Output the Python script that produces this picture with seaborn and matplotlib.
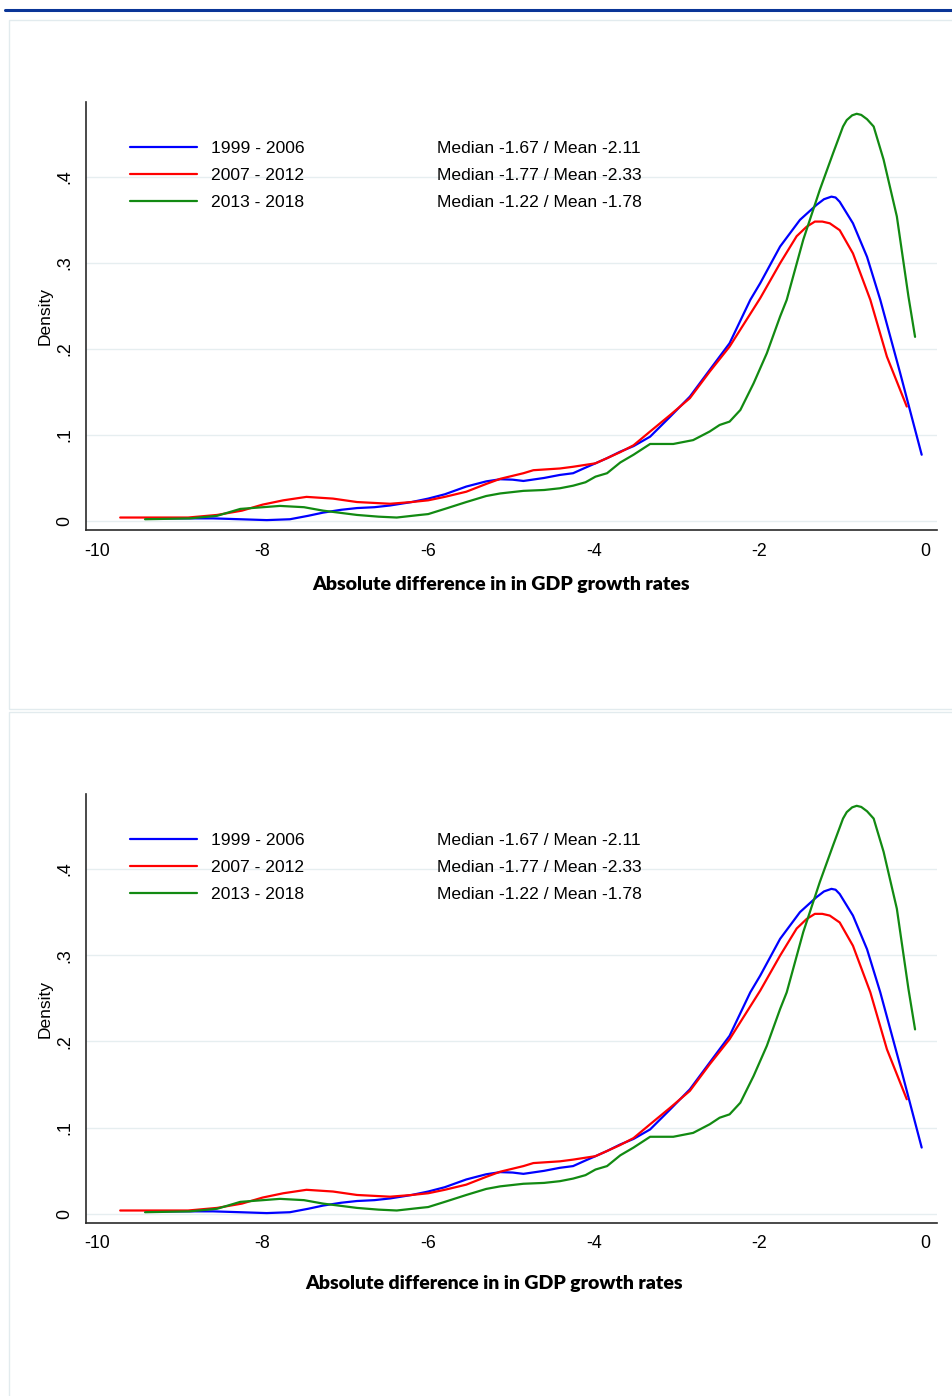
import numpy as np
import pandas as pd
import matplotlib
matplotlib.use("Agg")
import matplotlib.pyplot as plt
from matplotlib.lines import Line2D
from matplotlib.patches import Rectangle
import seaborn as sns

# kernel density curves (x = difference, y = density)
x_9906 = [-9.40, -9.00, -8.60, -8.27, -7.95, -7.67, -7.45, -7.27, -7.05, -6.86, -6.65, -6.46,
          -6.20, -6.00, -5.80, -5.54, -5.30, -5.13, -4.98, -4.85, -4.60, -4.41, -4.25, -4.10,
          -3.98, -3.84, -3.68, -3.52, -3.32, -3.08, -2.84, -2.60, -2.36, -2.11, -1.99, -1.75,
          -1.51, -1.31, -1.22, -1.13, -1.08, -1.03, -0.87, -0.70, -0.54, -0.30, -0.14, -0.04]
y_9906 = [0.003, 0.003, 0.003, 0.002, 0.001, 0.002, 0.006, 0.0097, 0.013, 0.015, 0.016, 0.018,
          0.022, 0.026, 0.031, 0.040, 0.046, 0.0485, 0.048, 0.0465, 0.050, 0.0535, 0.0555, 0.062,
          0.067, 0.073, 0.0806, 0.087, 0.098, 0.121, 0.1445, 0.1756, 0.2066, 0.257, 0.2764, 0.319,
          0.350, 0.3674, 0.374, 0.377, 0.376, 0.371, 0.346, 0.307, 0.257, 0.172, 0.1135, 0.077]

x_0712 = [-9.72, -9.30, -8.90, -8.55, -8.25, -8.00, -7.75, -7.47, -7.15, -6.86, -6.46, -6.20,
          -6.00, -5.80, -5.54, -5.30, -5.13, -4.85, -4.73, -4.41, -4.25, -3.98, -3.84, -3.68,
          -3.52, -3.32, -3.08, -2.84, -2.60, -2.36, -1.99, -1.75, -1.55, -1.43, -1.33, -1.24,
          -1.15, -1.03, -0.87, -0.66, -0.46, -0.22]
y_0712 = [0.004, 0.004, 0.004, 0.007, 0.012, 0.019, 0.024, 0.028, 0.026, 0.022, 0.020, 0.022,
          0.024, 0.028, 0.034, 0.043, 0.049, 0.0555, 0.059, 0.061, 0.063, 0.067, 0.073, 0.080,
          0.088, 0.104, 0.123, 0.1427, 0.1736, 0.2027, 0.259, 0.2996, 0.331, 0.342, 0.348, 0.348,
          0.346, 0.338, 0.311, 0.257, 0.191, 0.133]

x_1318 = [-9.42, -8.88, -8.55, -8.27, -7.79, -7.50, -7.27, -6.86, -6.60, -6.38, -6.10, -6.00,
          -5.80, -5.54, -5.30, -5.13, -4.85, -4.60, -4.41, -4.25, -4.10, -3.98, -3.84, -3.68,
          -3.52, -3.32, -3.04, -2.80, -2.60, -2.48, -2.36, -2.23, -2.07, -1.91, -1.75, -1.67,
          -1.47, -1.27, -1.11, -0.99, -0.945, -0.88, -0.825, -0.77, -0.70, -0.62, -0.50, -0.34,
          -0.20, -0.12]
y_1318 = [0.002, 0.003, 0.006, 0.014, 0.0175, 0.016, 0.012, 0.007, 0.005, 0.004, 0.007, 0.008,
          0.014, 0.022, 0.029, 0.032, 0.035, 0.036, 0.038, 0.041, 0.045, 0.0515, 0.0555, 0.068,
          0.077, 0.0895, 0.0895, 0.094, 0.104, 0.1116, 0.1155, 0.129, 0.160, 0.195, 0.2376, 0.257,
          0.327, 0.385, 0.4275, 0.4585, 0.466, 0.4715, 0.4733, 0.472, 0.467, 0.4585, 0.420, 0.354,
          0.261, 0.214]

periods = ["1999 - 2006", "2007 - 2012", "2013 - 2018"]
stats = ["Median -1.67 / Mean -2.11", "Median -1.77 / Mean -2.33", "Median -1.22 / Mean -1.78"]
colors = ["#0000ff", "#ff0000", "#128a12"]
xticks = [-10, -8, -6, -4, -2, 0]
yticks = [0, 0.1, 0.2, 0.3, 0.4]
yticklabels = ["0", ".1", ".2", ".3", ".4"]
xlabel = "Absolute difference in in GDP growth rates"

df = pd.concat([
    pd.DataFrame({"x": x_9906, "density": y_9906, "period": periods[0]}),
    pd.DataFrame({"x": x_0712, "density": y_0712, "period": periods[1]}),
    pd.DataFrame({"x": x_1318, "density": y_1318, "period": periods[2]}),
])

sns.set_style("white")
plt.rcParams["font.family"] = ["Liberation Sans", "DejaVu Sans"]

W, H = 952, 1396
fig = plt.figure(figsize=(W / 100, H / 100), dpi=100)

# page decoration: blue rule on top and faint panel boxes
fig.add_artist(Line2D([5 / W, 1], [1 - 10 / H] * 2, color="#0a3597", lw=2.2))
fig.add_artist(Rectangle((9 / W, 1 - 709 / H), 1, (709 - 20) / H, transform=fig.transFigure,
                         fill=False, ec="#e2ebee", lw=1))
fig.add_artist(Rectangle((9 / W, -0.01), 1, (H - 712) / H + 0.01, transform=fig.transFigure,
                         fill=False, ec="#e2ebee", lw=1))


def draw_panel(rect, label_xy):
    ax = fig.add_axes(rect)
    sns.lineplot(data=df, x="x", y="density", hue="period", hue_order=periods,
                 palette=colors, linewidth=1.6, legend=False, ax=ax, sort=True)
    ax.set_xlim(-10.133, 0.145)
    ax.set_ylim(-0.0105, 0.487)
    ax.set_xticks(xticks)
    ax.set_xticklabels([str(t) for t in xticks])
    ax.set_yticks(yticks)
    ax.set_yticklabels(yticklabels)
    ax.grid(axis="y", color="#e6eef0", lw=1)
    ax.grid(axis="x", visible=False)
    for s in ["top", "right"]:
        ax.spines[s].set_visible(False)
    for s in ["left", "bottom"]:
        ax.spines[s].set_color("#2a2a2a")
        ax.spines[s].set_linewidth(1.2)
    ax.tick_params(axis="both", direction="out", length=5, width=1.1, color="#2a2a2a",
                   labelsize=12.8, labelcolor="#000000", pad=4)
    ax.tick_params(axis="y", labelrotation=90)
    for lbl in ax.get_yticklabels():
        lbl.set_va("center")
    ax.set_ylabel("Density", fontsize=12.5, color="#000000")
    ax.yaxis.set_label_coords(-0.048, 0.5)
    ax.yaxis.label.set_va("center")
    ax.set_xlabel(xlabel, fontsize=14, fontweight="heavy", color="#000000",
                  family=["Lato", "DejaVu Sans"])
    ax.xaxis.set_label_coords(*label_xy)
    ax.xaxis.label.set_va("center")

    ax.legend(ax.lines[:3], periods, loc="upper left", bbox_to_anchor=(0.0517, 0.909),
              frameon=False, fontsize=12.6, handlelength=3.85, handletextpad=0.8,
              labelspacing=0.66, borderpad=0, borderaxespad=0, labelcolor="#000000")
    for i, txt in enumerate(stats):
        ax.text(0.4125, 0.891 - i * 0.063, txt, transform=ax.transAxes, fontsize=12.6,
                va="center", ha="left", color="#000000")
    return ax


draw_panel([86 / W, 1 - 530 / H, 851 / W, 428 / H], (0.4877, -0.1285))
draw_panel([86 / W, 1 - 1223 / H, 851 / W, 429 / H], (0.4794, -0.1399))

fig.savefig("out.png", dpi=100)
